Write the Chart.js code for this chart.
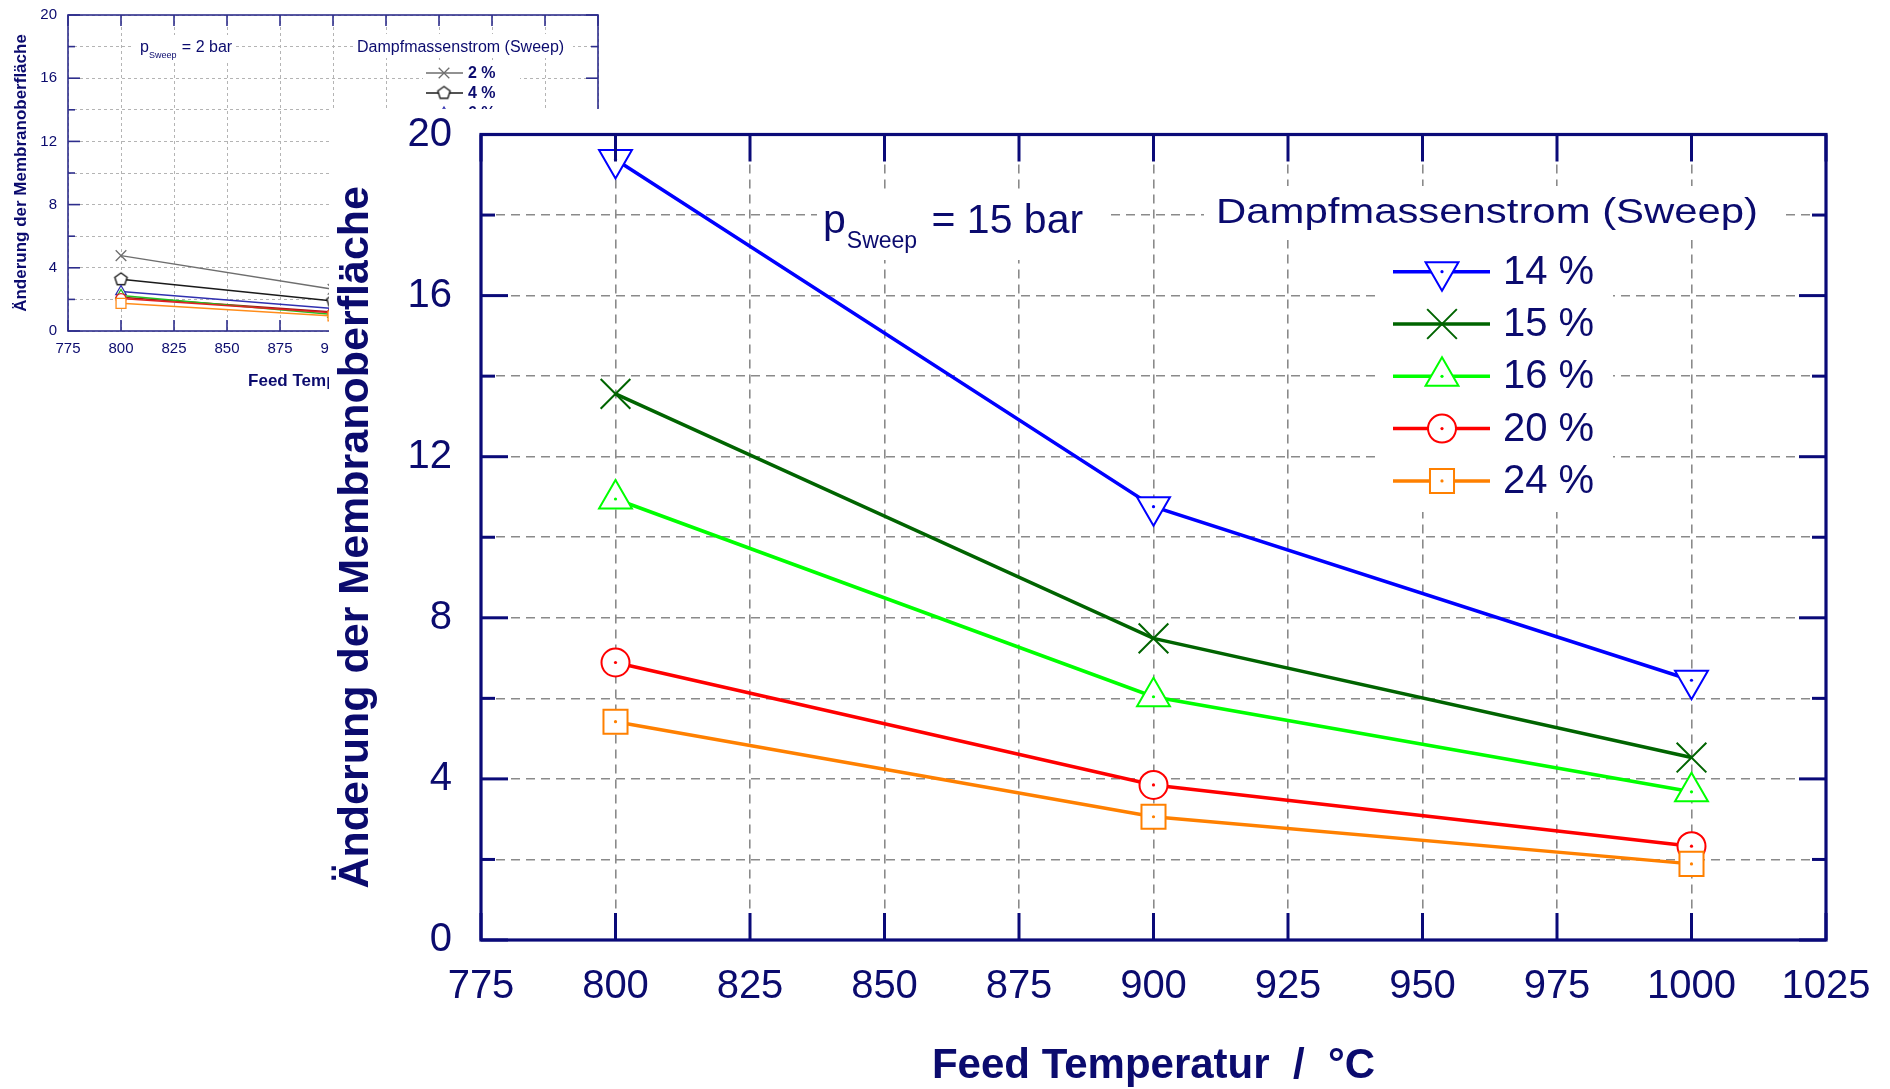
<!DOCTYPE html>
<html><head><meta charset="utf-8">
<script src="https://cdn.jsdelivr.net/npm/chart.js@4.4.0/dist/chart.umd.min.js"></script>
<style>
html,body{margin:0;padding:0;background:#fff;width:1890px;height:1089px;overflow:hidden;position:relative}
#bg{position:absolute;left:0;top:0}
#main{position:absolute;left:329px;top:109px}
</style></head><body>
<canvas id="bg" width="640" height="420" style="width:640px;height:420px"></canvas>
<canvas id="main" width="1561" height="980" style="width:1561px;height:980px"></canvas>
<script>
// ---------- Main chart data (p_Sweep = 15 bar) ----------
const temps = [800, 900, 1000];
const seriesNames = ['14 %', '15 %', '16 %', '20 %', '24 %'];
const sweep14 = [19.38, 10.76, 6.45];
const sweep15 = [13.56, 7.49, 4.53];
const sweep16 = [10.95, 6.04, 3.68];
const sweep20 = [6.89, 3.85, 2.33];
const sweep24 = [5.42, 3.06, 1.89];
const xTickValues = [775, 800, 825, 850, 875, 900, 925, 950, 975, 1000, 1025];
const yTickValues = [0, 2, 4, 6, 8, 10, 12, 14, 16, 18, 20];
const yTickLabels = ['0', '4', '8', '12', '16', '20'];
const legendTitle = 'Dampfmassenstrom (Sweep)';
const xTitle = 'Feed Temperatur  /  °C';
const yTitle = 'Änderung der Membranoberfläche';

// ---------- Background chart data (p_Sweep = 2 bar), mostly covered ----------
const bgTemps = [800, 900];
const bgSeriesNames = ['2 %', '4 %', '6 %', '8 %', '10 %', '12 %', '14 %'];
const bg2 = [4.77, 2.64];
const bg4 = [3.27, 1.90];
const bg6 = [2.50, 1.43];
const bg8 = [2.13, 1.20];
const bg10 = [2.25, 1.05];
const bg12 = [2.05, 1.15];
const bg14 = [1.75, 0.95];

// ---------- styles ----------
const FONT = "'Liberation Sans', Arial, Helvetica, sans-serif";
const NAVY = '#0b0b6e';
const AXIS = '#0a0a78';

const mainStyles = [
  {color: '#0000ff', style: 'triangle', rotation: 180, radius: 19},
  {color: '#006400', style: 'crossRot', rotation: 0, radius: 21},
  {color: '#00ff00', style: 'triangle', rotation: 0, radius: 19},
  {color: '#ff0000', style: 'circle', rotation: 0, radius: 14},
  {color: '#ff8000', style: 'rect', rotation: 0, radius: 17}
];

function makePentagon(r, color) {
  const c = document.createElement('canvas');
  const s = Math.ceil(2 * r + 4);
  c.width = s; c.height = s;
  const g = c.getContext('2d');
  g.beginPath();
  for (let k = 0; k < 5; k++) {
    const a = -Math.PI / 2 + k * 2 * Math.PI / 5;
    const px = s / 2 + r * Math.cos(a), py = s / 2 + r * Math.sin(a);
    if (k) g.lineTo(px, py); else g.moveTo(px, py);
  }
  g.closePath();
  g.fillStyle = '#fff'; g.fill();
  g.lineWidth = 1.4; g.strokeStyle = color; g.stroke();
  return c;
}

const bgStyles = [
  {color: '#6e6e6e', style: 'crossRot', rotation: 0, radius: 7.5},
  {color: '#1a1a1a', style: makePentagon(6.5, '#1a1a1a'), rotation: 0, radius: 6},
  {color: '#3030b0', style: 'triangle', rotation: 0, radius: 6},
  {color: '#a01818', style: 'rectRot', rotation: 0, radius: 5},
  {color: '#22c022', style: 'triangle', rotation: 0, radius: 6},
  {color: '#e02020', style: 'circle', rotation: 0, radius: 5},
  {color: '#ff8c1a', style: 'rect', rotation: 0, radius: 7}
];

function line(c, x1, y1, x2, y2) { c.beginPath(); c.moveTo(x1, y1); c.lineTo(x2, y2); c.stroke(); }

function drawMarker(c, st, x, y, bw) {
  c.save();
  c.strokeStyle = st.color; c.fillStyle = '#fff'; c.lineWidth = bw;
  Chart.helpers.drawPoint(c, {pointStyle: st.style, rotation: st.rotation, radius: st.radius, borderWidth: bw}, x, y);
  c.restore();
}

function noPadY(s, w) { s.width = w; s.paddingTop = 0; s.paddingBottom = 0; }
function noPadX(s, h) { s.height = h; s.paddingLeft = 0; s.paddingRight = 0; }

// ---------- Main chart ----------
const mainValues = [sweep14, sweep15, sweep16, sweep20, sweep24];
const mainDatasets = mainValues.map((vals, i) => {
  const st = mainStyles[i];
  return {
    label: seriesNames[i],
    data: temps.map((t, k) => ({x: t, y: vals[k]})),
    borderColor: st.color, backgroundColor: st.color, borderWidth: 3.5,
    pointStyle: st.style, pointRotation: st.rotation, pointRadius: st.radius, pointHoverRadius: st.radius,
    pointBorderColor: st.color, pointBackgroundColor: '#fff', pointBorderWidth: 2,
    tension: 0, fill: false, clip: false, order: mainValues.length - 1 - i
  };
});

const mainDecor = {
  id: 'mainDecor',
  beforeDraw(chart) {
    const c = chart.ctx; c.save(); c.fillStyle = '#fff'; c.fillRect(0, 0, chart.width, chart.height); c.restore();
  },
  beforeDatasetsDraw(chart) {
    const c = chart.ctx; c.save(); c.fillStyle = '#fff';
    c.fillRect(488, 81, 293, 70);     // p_Sweep label background
    c.fillRect(875, 77, 581, 54);     // legend title background
    c.fillRect(1049, 131, 235, 272);  // legend entries background
    c.restore();
  },
  afterDatasetsDraw(chart) {
    const c = chart.ctx;
    const {left, right, top, bottom} = chart.chartArea;
    c.save();
    // centre dots of markers
    chart.data.datasets.forEach((ds, i) => {
      if (mainStyles[i].style === 'crossRot') return;
      c.fillStyle = mainStyles[i].color;
      chart.getDatasetMeta(i).data.forEach(el => { c.beginPath(); c.arc(el.x, el.y, 1.6, 0, Math.PI * 2); c.fill(); });
    });
    // frame
    c.strokeStyle = AXIS; c.lineWidth = 3.2;
    c.strokeRect(left, top, right - left, bottom - top);
    // inward ticks
    const xs = chart.scales.x, ys = chart.scales.y;
    c.lineWidth = 3;
    xTickValues.forEach(v => {
      const px = xs.getPixelForValue(v);
      line(c, px, bottom, px, bottom - 27);
      line(c, px, top, px, top + 27);
    });
    yTickValues.forEach(v => {
      const py = ys.getPixelForValue(v);
      const L = yTickLabels.includes(String(v)) ? 27 : 14;
      line(c, left, py, left + L, py);
      line(c, right, py, right - L, py);
    });
    // p_Sweep label
    c.fillStyle = NAVY; c.textAlign = 'left'; c.textBaseline = 'alphabetic';
    c.font = `41px ${FONT}`;
    let x = 494; const yb = 123.5;
    c.fillText('p', x, yb); x += c.measureText('p').width;
    c.font = `23px ${FONT}`;
    c.fillText('Sweep', x + 1, yb + 15.5); x += c.measureText('Sweep').width + 1;
    c.font = `41px ${FONT}`;
    c.fillText(' = 15 bar', x + 3, yb);
    // legend title (slightly wide font)
    c.font = `35px ${FONT}`;
    const tw = c.measureText(legendTitle).width;
    c.save(); c.translate(887, 114); c.scale(542 / tw, 1); c.fillText(legendTitle, 0, 0); c.restore();
    // legend entries
    chart.data.datasets.forEach((ds, i) => {
      const st = mainStyles[i];
      const y = 162.7 + i * 52.3;
      c.strokeStyle = st.color; c.lineWidth = 3.5;
      line(c, 1064, y, 1161, y);
      drawMarker(c, st, 1113, y, 2);
      if (st.style !== 'crossRot') { c.fillStyle = st.color; c.beginPath(); c.arc(1113, y, 1.6, 0, Math.PI * 2); c.fill(); }
      c.fillStyle = NAVY; c.font = `40px ${FONT}`; c.textBaseline = 'middle';
      c.fillText(ds.label, 1174, y + 1);
      c.textBaseline = 'alphabetic';
    });
    c.restore();
  }
};

new Chart(document.getElementById('main'), {
  type: 'line',
  data: {datasets: mainDatasets},
  options: {
    responsive: false, animation: false, events: [],
    layout: {padding: {left: 0, top: 25.5, right: 64, bottom: 0}},
    plugins: {legend: {display: false}, tooltip: {enabled: false}},
    scales: {
      x: {
        type: 'linear', min: 775, max: 1025,
        afterBuildTicks: s => { s.ticks = xTickValues.map(v => ({value: v})); },
        afterFit: s => noPadX(s, 149),
        grid: {color: '#8a8a8a', lineWidth: 1.6, drawTicks: false},
        border: {display: false, dash: [9, 6]},
        ticks: {color: NAVY, font: {family: FONT, size: 40}, padding: 23, maxRotation: 0, autoSkip: false,
                callback: v => String(v)},
        title: {display: true, text: xTitle, color: NAVY, font: {family: FONT, size: 42, weight: 'bold', lineHeight: 1},
                padding: {top: 0, bottom: 2}}
      },
      y: {
        type: 'linear', min: 0, max: 20,
        afterBuildTicks: s => { s.ticks = yTickValues.map(v => ({value: v})); },
        afterFit: s => noPadY(s, 152),
        grid: {color: '#8a8a8a', lineWidth: 1.6, drawTicks: false},
        border: {display: false, dash: [9, 6]},
        ticks: {color: NAVY, font: {family: FONT, size: 40}, padding: 29, autoSkip: false,
                callback: v => yTickLabels.includes(String(v)) ? String(v) : ''},
        title: {display: true, text: yTitle, color: NAVY, font: {family: FONT, size: 43, weight: 'bold', lineHeight: 1},
                padding: {top: 6, bottom: 0}}
      }
    }
  },
  plugins: [mainDecor]
});

// ---------- Background chart ----------
const bgValues = [bg2, bg4, bg6, bg8, bg10, bg12, bg14];
const bgDatasets = bgValues.map((vals, i) => {
  const st = bgStyles[i];
  return {
    label: bgSeriesNames[i],
    data: bgTemps.map((t, k) => ({x: t, y: vals[k]})),
    borderColor: st.color, backgroundColor: st.color, borderWidth: 1.5,
    pointStyle: st.style, pointRotation: st.rotation, pointRadius: st.radius, pointHoverRadius: st.radius,
    pointBorderColor: st.color, pointBackgroundColor: '#fff', pointBorderWidth: 1.3,
    tension: 0, fill: false, clip: false, order: bgValues.length - 1 - i
  };
});

const bgDecor = {
  id: 'bgDecor',
  beforeDatasetsDraw(chart) {
    const c = chart.ctx; c.save(); c.fillStyle = '#fff';
    c.fillRect(134, 35, 102, 27);
    c.fillRect(353, 34, 220, 24);
    c.fillRect(423, 62, 97, 64);
    c.restore();
  },
  afterDatasetsDraw(chart) {
    const c = chart.ctx;
    const {left, right, top, bottom} = chart.chartArea;
    c.save();
    c.strokeStyle = '#2e2e8c'; c.lineWidth = 1.6;
    c.strokeRect(left, top, right - left, bottom - top);
    const xs = chart.scales.x, ys = chart.scales.y;
    c.lineWidth = 1.6;
    xTickValues.forEach(v => {
      const px = xs.getPixelForValue(v);
      line(c, px, bottom, px, bottom - 11);
      line(c, px, top, px, top + 11);
    });
    yTickValues.forEach(v => {
      const py = ys.getPixelForValue(v);
      const L = yTickLabels.includes(String(v)) ? 12 : 7;
      line(c, left, py, left + L, py);
      line(c, right, py, right - L, py);
    });
    // p_Sweep label
    c.fillStyle = NAVY; c.textAlign = 'left'; c.textBaseline = 'alphabetic';
    c.font = `16px ${FONT}`;
    let x = 140; const yb = 52;
    c.fillText('p', x, yb); x += c.measureText('p').width;
    c.font = `9px ${FONT}`;
    c.fillText('Sweep', x, yb + 6); x += c.measureText('Sweep').width;
    c.font = `16px ${FONT}`;
    c.fillText(' = 2 bar', x + 1, yb);
    // legend
    c.fillText(legendTitle, 357, 52);
    chart.data.datasets.forEach((ds, i) => {
      const st = bgStyles[i];
      const y = 73 + i * 20;
      c.strokeStyle = st.color; c.lineWidth = 1.5;
      line(c, 426, y, 463, y);
      drawMarker(c, st, 444, y, 1.3);
      c.fillStyle = NAVY; c.font = `bold 16px ${FONT}`; c.textBaseline = 'middle';
      c.fillText(ds.label, 468, y + 1);
      c.textBaseline = 'alphabetic';
    });
    c.restore();
  }
};

new Chart(document.getElementById('bg'), {
  type: 'line',
  data: {datasets: bgDatasets},
  options: {
    responsive: false, animation: false, events: [],
    layout: {padding: {left: 0, top: 15, right: 42, bottom: 0}},
    plugins: {legend: {display: false}, tooltip: {enabled: false}},
    scales: {
      x: {
        type: 'linear', min: 775, max: 1025,
        afterBuildTicks: s => { s.ticks = xTickValues.map(v => ({value: v})); },
        afterFit: s => noPadX(s, 89),
        grid: {color: '#b4b4b4', lineWidth: 1, drawTicks: false},
        border: {display: false, dash: [3, 3]},
        ticks: {color: NAVY, font: {family: FONT, size: 15}, padding: 9, maxRotation: 0, autoSkip: false,
                callback: v => String(v)},
        title: {display: true, text: 'Feed Temperatur / °C', color: NAVY, font: {family: FONT, size: 17, weight: 'bold', lineHeight: 1},
                padding: {top: 0, bottom: 30.5}}
      },
      y: {
        type: 'linear', min: 0, max: 20,
        afterBuildTicks: s => { s.ticks = yTickValues.map(v => ({value: v})); },
        afterFit: s => noPadY(s, 68),
        grid: {color: '#b4b4b4', lineWidth: 1, drawTicks: false},
        border: {display: false, dash: [3, 3]},
        ticks: {color: NAVY, font: {family: FONT, size: 15}, padding: 11, autoSkip: false,
                callback: v => yTickLabels.includes(String(v)) ? String(v) : ''},
        title: {display: true, text: yTitle, color: NAVY, font: {family: FONT, size: 17, weight: 'bold', lineHeight: 1},
                padding: {top: 12.5, bottom: 0}}
      }
    }
  },
  plugins: [bgDecor]
});
</script>
</body></html>
